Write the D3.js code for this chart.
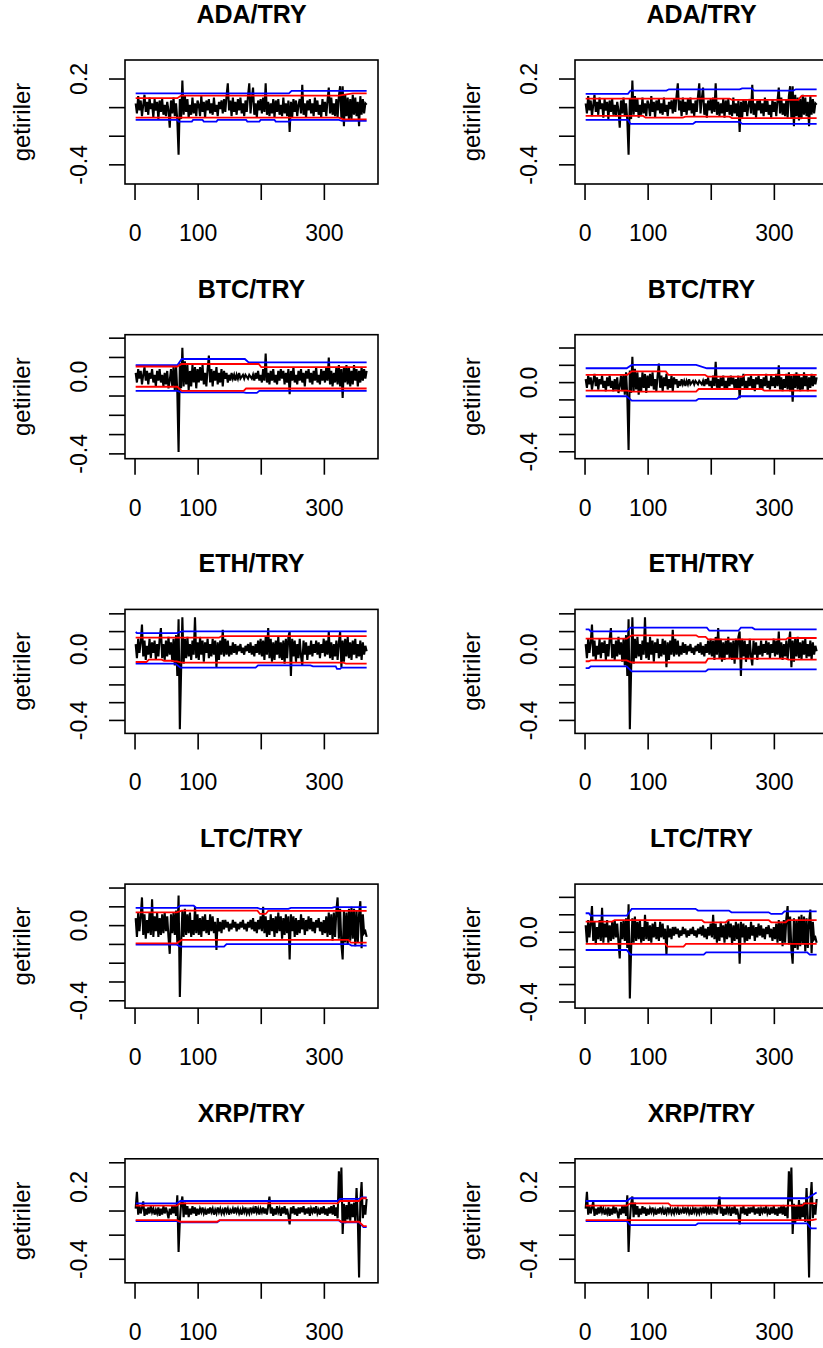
<!DOCTYPE html>
<html>
<head>
<meta charset="utf-8">
<script src="https://cdn.jsdelivr.net/npm/d3@7"></script>
<style>
  html, body { margin: 0; padding: 0; background: #fff; overflow: hidden; width: 823px; height: 1348px; }
  text { font-family: "Liberation Sans", Arial, sans-serif; fill: #000; }
</style>
</head>
<body>
<script>
"use strict";

// ---- data (returns in percent, one value every 2 days, day 1..367) ----
const symbols = ["ADA/TRY", "BTC/TRY", "ETH/TRY", "LTC/TRY", "XRP/TRY"];
const dayStep = 2;

const adaReturns = [3,-4,8,-2,5,-6,2,9,-3,4, -5,7,-1,3,-7,6,-2,4,-8,5, -3,6,-5,2,-6,4,-2,-14,5,-4,
  7,-6,3,-9,-33,6,-8,19,-5,8, -3,6,-7,2,-5,7,-4,3,-6,5, 2,-6,8,-3,4,-7,5,-2,6,-4,
  3,-5,7,-3,2,-6,4,-1,5,-4, 6,-3,8,17,-2,5,-6,7,-3,4, -5,6,-2,7,-4,3,-6,5,-3,8,
  17,-4,6,14,-5,3,-7,5,-2,6, -4,7,-3,17,-5,4,-6,3,-4,6, -7,5,-3,6,-5,2,-6,7,-4,3,
  -6,5,-17,4,-7,6,-3,5,-6,2, 6,-4,16,-5,3,-7,5,-2,6,-4, 3,-6,7,-3,5,-5,2,-7,6,-3,
  4,-6,5,14,-4,7,-5,3,-6,6, -7,8,15,-8,15,-13,9,-6,7,-9, 6,-8,9,-5,7,-6,4,-13,8,-5, 6,-4,3,2];
const btcReturns = [2,-3,4,-1,3,-4,1,5,-2,3, -4,2,-1,4,-3,1,-5,3,-2,4, -3,1,-5,2,-4,3,-6,-2,4,-5,
  5,-7,6,-8,-39,7,-6,15,-5,8, -4,6,-7,3,-5,6,-3,5,-6,4, -3,5,-2,6,-4,2,-5,4,11,-3,
  4,-5,3,-2,5,-4,2,-3,4,-5, 3,-1,2,-3,1,-2,2,-1,1,-2, 1,-1,2,-1,0,1,-1,1,0,-1,
  1,0,-1,1,-2,2,-1,3,-2,1, -3,4,-2,12,-3,2,-4,3,-2,4, -3,1,-4,3,-2,4,-1,3,-4,2,
  -3,4,-9,3,-2,5,-3,1,-4,3, -2,4,-3,2,-5,3,-1,4,-3,2, -4,3,-2,5,-3,1,-4,4,-2,3,
  -3,5,-2,10,-4,3,-5,2,-3,5, -4,6,-5,4,-11,5,-3,6,-4,5, -5,3,-4,6,-2,4,-5,3,-3,5, -2,4,-1,3];
const ethReturns = [3,-5,6,-2,4,14,-4,5,-6,2, -3,6,-5,4,-2,5,-6,3,-4,6, 12,-5,3,-6,5,-4,7,-3,4,-7,
  6,-9,8,-15,17,-45,-12,18,-8,6, -5,7,-4,3,-6,5,-3,18,-5,4, -6,7,-3,5,-7,4,-2,6,-5,3,
  -4,6,-3,5,-10,4,-6,5,-3,11, -4,6,-3,5,-4,2,-3,4,-2,3, -3,2,-1,3,-2,1,-3,2,-1,3,
  -2,4,-3,2,-4,3,-2,5,-3,6, -4,5,-6,7,-3,12,-5,6,-7,4, -6,5,-3,7,-5,4,-6,5,-8,6,
  -5,7,10,-15,6,-4,5,-7,3,-5, 6,-4,-9,5,-3,4,-6,2,-3,5, -4,3,-2,5,-3,4,-5,3,-2,6,
  -4,5,-3,10,-5,4,-6,3,-4,5, -6,4,10,-10,5,-7,6,-4,7,-5, 4,-6,5,-3,6,-5,3,-4,5,-6, 4,-3,2,-1];
const ltcReturns = [4,-6,7,-3,5,15,-5,6,-7,3, -4,7,-5,14,-6,5,-3,7,-6,4, -5,6,-4,7,-3,5,-6,-15,6,-4,
  7,-5,8,-9,16,-38,-10,8,-6,9, -5,6,-4,7,-6,3,-5,10,-4,6, -5,4,-6,5,-3,6,-4,3,-5,6,
  -3,5,-4,2,-13,4,-3,2,-4,3, -2,3,-1,2,-3,1,-2,3,-1,2, -3,1,-2,2,-1,3,-2,1,-3,2,
  -1,3,-2,4,-3,2,-4,3,-2,5, -3,10,-4,5,-6,3,-5,6,-3,4, -6,5,-4,7,-3,5,-7,4,-5,6,
  -4,5,-18,6,-3,5,-6,4,-5,3, -4,6,-2,4,-5,3,-3,5,-2,4, -3,2,-4,3,-1,4,-3,2,-5,3,
  -4,5,-6,7,-5,6,-8,7,-6,8, 15,-7,9,-10,-18,8,-9,7,-10,9, -8,10,-7,9,-11,8,-9,6,13,-12, 6,-4,-3,-6];
const xrpReturns = [2,16,-3,4,-2,3,8,-4,2,-3, 3,-2,4,-1,2,-3,1,-2,3,-4, 2,-3,4,-2,3,-1,-6,2,-3,4,
  -2,5,-4,13,-34,-8,6,12,-5,7, -3,4,-5,2,-3,4,-2,3,-4,2, -3,2,-1,3,-2,1,-3,2,-2,3,
  -1,2,-3,1,-2,3,-1,2,-2,1, -2,3,-1,2,-3,1,-1,2,-2,3, -1,2,-2,1,-3,2,-1,3,-2,1,
  -2,3,-1,2,-2,4,-1,2,-3,2, -1,3,-2,2,-3,4,12,-2,3,-4, 2,-3,4,-1,2,-4,3,-2,4,-3,
  2,-4,-11,3,-2,4,-3,2,-4,3, -2,3,-1,4,-3,2,-2,3,-4,2, -1,3,-2,4,-2,1,-3,3,-2,4,
  -3,2,-4,3,-2,4,-3,5,-4,3, -6,33,8,36,-19,6,-10,5,-7,9, -8,6,-5,7,-9,19,-6,-55,8,24, -6,5,-3,10];

// ---- limit bands, [day, value] ----
const adaL_blueHi = [[1,.100],[244,.100],[248,.117],[367,.117]];
const adaL_redHi  = [[1,.066],[67,.066],[73,.084],[323,.084],[345,.100],[367,.100]];
const adaL_redLo  = [[1,-.070],[323,-.070],[330,-.082],[367,-.082]];
const adaL_blueLo = [[1,-.086],[67,-.086],[69,-.098],[90,-.098],[92,-.086],[107,-.086],[109,-.098],[129,-.098],[131,-.086],
  [176,-.086],[178,-.098],[197,-.098],[199,-.086],[221,-.086],[223,-.098],[245,-.098],[247,-.086],[323,-.086],[328,-.093],[367,-.093]];
const adaR_blueHi = [[1,.096],[68,.096],[72,.119],[129,.119],[133,.128],[245,.128],[249,.135],[264,.135],[268,.119],[330,.119],[334,.128],[367,.128]];
const adaR_redHi  = [[1,.063],[229,.063],[233,.054],[338,.054],[343,.082],[367,.082]];
const adaR_redLo  = [[1,-.058],[92,-.058],[96,-.070],[155,-.070],[159,-.063],[229,-.063],[233,-.074],[367,-.074]];
const adaR_blueLo = [[1,-.086],[68,-.086],[72,-.114],[171,-.114],[175,-.100],[245,-.100],[249,-.114],[367,-.114]];

const btcL_blueHi = [[1,.060],[67,.060],[74,.092],[174,.092],[180,.074],[367,.074]];
const btcL_redHi  = [[1,.053],[67,.053],[74,.066],[196,.066],[200,.050],[367,.050]];
const btcL_redLo  = [[1,-.052],[67,-.052],[74,-.073],[172,-.073],[176,-.061],[367,-.061]];
const btcL_blueLo = [[1,-.073],[67,-.073],[74,-.081],[172,-.081],[176,-.084],[193,-.084],[197,-.073],[367,-.073]];
const btcR_blueHi = [[1,.083],[66,.083],[74,.102],[176,.102],[193,.083],[367,.083]];
const btcR_redHi  = [[1,.045],[67,.045],[74,.065],[128,.065],[132,.045],[190,.045],[194,.035],[250,.035],[254,.045],[367,.045]];
const btcR_redLo  = [[1,-.046],[67,-.046],[74,-.052],[176,-.052],[180,-.037],[280,-.037],[284,-.046],[367,-.046]];
const btcR_blueLo = [[1,-.079],[66,-.079],[74,-.104],[176,-.104],[180,-.094],[241,-.094],[245,-.079],[367,-.079]];

const ethL_blueHi = [[1,.098],[3,.092],[66,.092],[74,.101],[367,.101]];
const ethL_redHi  = [[1,.066],[133,.066],[137,.075],[367,.075]];
const ethL_redLo  = [[1,-.071],[18,-.071],[22,-.058],[42,-.058],[46,-.064],[58,-.064],[62,-.068],[66,-.068],[74,-.075],[330,-.075],[334,-.080],[367,-.080]];
const ethL_blueLo = [[1,-.080],[64,-.080],[72,-.103],[191,-.103],[195,-.090],[278,-.090],[282,-.096],[318,-.096],[320,-.110],[325,-.110],[327,-.103],[367,-.103]];
const ethR_blueHi = [[1,.113],[6,.113],[9,.101],[66,.101],[72,.122],[193,.122],[197,.105],[243,.105],[247,.122],[265,.122],[269,.113],[367,.113]];
const ethR_redHi  = [[1,.060],[66,.060],[74,.079],[176,.079],[180,.070],[191,.070],[195,.056],[318,.056],[322,.064],[367,.064]];
const ethR_redLo  = [[1,-.067],[6,-.067],[9,-.062],[66,-.062],[74,-.074],[191,-.074],[195,-.052],[318,-.052],[322,-.058],[367,-.058]];
const ethR_blueLo = [[1,-.105],[6,-.105],[9,-.096],[66,-.096],[74,-.124],[191,-.124],[195,-.113],[367,-.113]];

const ltcL_blueHi = [[1,.094],[66,.094],[72,.106],[93,.106],[97,.094],[194,.094],[198,.089],[243,.089],[247,.094],[312,.094],[316,.098],[367,.098]];
const ltcL_redHi  = [[1,.071],[66,.071],[74,.080],[194,.080],[198,.062],[207,.062],[211,.078],[367,.078]];
const ltcL_redLo  = [[1,-.094],[66,-.094],[74,-.076],[338,-.076],[342,-.090],[367,-.090]];
const ltcL_blueLo = [[1,-.101],[66,-.101],[72,-.112],[141,-.112],[145,-.098],[339,-.098],[343,-.106],[367,-.106]];
const ltcR_blueHi = [[1,.109],[6,.109],[9,.095],[66,.095],[74,.134],[175,.134],[179,.124],[228,.124],[232,.114],[291,.114],[295,.105],[312,.105],[316,.120],[367,.120]];
const ltcR_redHi  = [[1,.061],[43,.061],[47,.070],[185,.070],[189,.057],[223,.057],[227,.070],[291,.070],[295,.057],[318,.057],[322,.070],[367,.070]];
const ltcR_redLo  = [[1,-.067],[127,-.067],[131,-.082],[156,-.082],[160,-.067],[367,-.067]];
const ltcR_blueLo = [[1,-.102],[66,-.102],[72,-.128],[188,-.128],[192,-.115],[352,-.115],[356,-.128],[367,-.128]];

const xrpL_blueHi = [[1,.064],[66,.064],[72,.083],[321,.083],[325,.100],[355,.100],[359,.114],[367,.114]];
const xrpL_redHi  = [[1,.044],[66,.044],[72,.064],[321,.064],[325,.083],[355,.083],[359,.106],[367,.106]];
const xrpL_redLo  = [[1,-.075],[66,-.075],[72,-.089],[130,-.089],[134,-.075],[323,-.075],[327,-.089],[355,-.089],[362,-.125],[367,-.125]];
const xrpL_blueLo = [[1,-.083],[66,-.083],[72,-.094],[130,-.094],[134,-.078],[323,-.078],[327,-.094],[355,-.094],[362,-.133],[367,-.133]];
const xrpR_blueHi = [[1,.083],[66,.083],[72,.106],[352,.106],[367,.153]];
const xrpR_redHi  = [[1,.044],[66,.044],[72,.064],[132,.064],[136,.044],[344,.044],[348,.064],[367,.064]];
const xrpR_redLo  = [[1,-.075],[360,-.075],[367,-.067]];
const xrpR_blueLo = [[1,-.083],[66,-.083],[72,-.117],[175,-.117],[179,-.103],[352,-.103],[358,-.144],[367,-.144]];

// ---- axes ----
const xDomain = [-15.9, 385];
const xTicks = [0, 100, 200, 300];
const xLabelled = [0, 100, 300];
const yDomainsLeft  = [[-0.534, 0.333], [-0.425, 0.218], [-0.473, 0.225], [-0.439, 0.221], [-0.595, 0.433]];
const yDomainsRight = [[-0.534, 0.333], [-0.440, 0.277], [-0.473, 0.225], [-0.435, 0.276], [-0.595, 0.433]];
const yTickSteps = [0.2, 0.1, 0.1, 0.1, 0.2];
const yLabelled = [[0.2, -0.4], [0, -0.4], [0, -0.4], [0, -0.4], [0.2, -0.4]];
const yTitle = "getiriler";

// ---- layout ----
const layout = {
    boxW: 253, boxH: 124,
    firstLeft: 125, colGap: 450,
    firstTop: 60, rowGap: 274.7
};

const returns = [adaReturns, btcReturns, ethReturns, ltcReturns, xrpReturns];
const bandsLeft = [
    [adaL_blueHi, adaL_blueLo, adaL_redHi, adaL_redLo],
    [btcL_blueHi, btcL_blueLo, btcL_redHi, btcL_redLo],
    [ethL_blueHi, ethL_blueLo, ethL_redHi, ethL_redLo],
    [ltcL_blueHi, ltcL_blueLo, ltcL_redHi, ltcL_redLo],
    [xrpL_blueHi, xrpL_blueLo, xrpL_redHi, xrpL_redLo]
];
const bandsRight = [
    [adaR_blueHi, adaR_blueLo, adaR_redHi, adaR_redLo],
    [btcR_blueHi, btcR_blueLo, btcR_redHi, btcR_redLo],
    [ethR_blueHi, ethR_blueLo, ethR_redHi, ethR_redLo],
    [ltcR_blueHi, ltcR_blueLo, ltcR_redHi, ltcR_redLo],
    [xrpR_blueHi, xrpR_blueLo, xrpR_redHi, xrpR_redLo]
];
const bandColors = ["#0000FF", "#0000FF", "#FF0000", "#FF0000"];

const svg = d3.select("body").append("svg")
    .attr("width", 900)
    .attr("height", 1348);

function yTickValues(domain, step) {
    const out = [];
    const k0 = Math.ceil(domain[0] / step - 1e-9), k1 = Math.floor(domain[1] / step + 1e-9);
    for (let k = k0; k <= k1; k++) out.push(+(k * step).toFixed(2));
    return out;
}

function drawPanel(row, col) {
    const left = layout.firstLeft + col * layout.colGap;
    const top = layout.firstTop + row * layout.rowGap;
    const w = layout.boxW, h = layout.boxH;
    const yDomain = (col === 0 ? yDomainsLeft : yDomainsRight)[row];
    const bands = (col === 0 ? bandsLeft : bandsRight)[row];

    const x = d3.scaleLinear().domain(xDomain).range([left, left + w]);
    const y = d3.scaleLinear().domain(yDomain).range([top + h, top]);
    const g = svg.append("g");

    // returns series
    const series = returns[row].map((v, i) => [1 + i * dayStep, v / 100]);
    const line = d3.line().x(d => x(d[0])).y(d => y(d[1]));
    g.append("path")
        .attr("d", line(series))
        .attr("fill", "none")
        .attr("stroke", "#000")
        .attr("stroke-width", 2.1)
        .attr("stroke-linejoin", "miter");

    bands.forEach((b, i) => {
        g.append("path")
            .attr("d", line(b))
            .attr("fill", "none")
            .attr("stroke", bandColors[i])
            .attr("stroke-width", 1.8);
    });

    // box
    g.append("rect")
        .attr("x", left).attr("y", top)
        .attr("width", w).attr("height", h)
        .attr("fill", "none").attr("stroke", "#000").attr("stroke-width", 1.6);

    // x axis
    xTicks.forEach(t => {
        g.append("line")
            .attr("x1", x(t)).attr("x2", x(t))
            .attr("y1", top + h).attr("y2", top + h + 16)
            .attr("stroke", "#000").attr("stroke-width", 1.6);
    });
    g.selectAll("text.xt")
        .data(xLabelled)
        .enter().append("text")
        .attr("class", "xt")
        .attr("x", d => x(d))
        .attr("y", top + h + 57)
        .attr("text-anchor", "middle")
        .style("font-size", "23px")
        .text(d => d);

    // y axis
    yTickValues(yDomain, yTickSteps[row]).forEach(t => {
        g.append("line")
            .attr("x1", left - 16).attr("x2", left)
            .attr("y1", y(t)).attr("y2", y(t))
            .attr("stroke", "#000").attr("stroke-width", 1.6);
    });
    g.selectAll("text.yt")
        .data(yLabelled[row])
        .enter().append("text")
        .attr("class", "yt")
        .attr("transform", d => "translate(" + (left - 38) + "," + y(d) + ")rotate(-90)")
        .attr("text-anchor", "middle")
        .style("font-size", "23px")
        .text(d => d.toFixed(1));

    g.append("text")
        .attr("transform", "translate(" + (left - 95) + "," + (top + h / 2) + ")rotate(-90)")
        .attr("text-anchor", "middle")
        .style("font-size", "24px")
        .text(yTitle);

    g.append("text")
        .attr("x", left + w / 2)
        .attr("y", top - 37)
        .attr("text-anchor", "middle")
        .style("font-size", "25px")
        .style("font-weight", "bold")
        .text(symbols[row]);
}

for (let r = 0; r < symbols.length; r++) {
    drawPanel(r, 0);
    drawPanel(r, 1);
}
</script>
</body>
</html>
